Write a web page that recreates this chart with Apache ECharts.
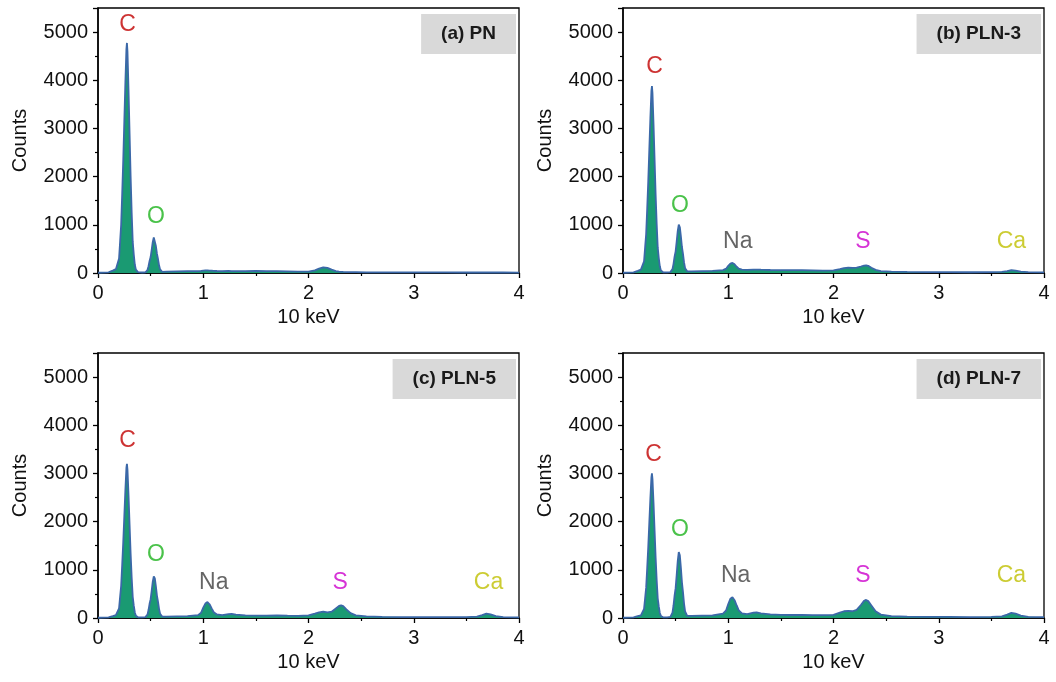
<!DOCTYPE html>
<html>
<head>
<meta charset="utf-8">
<script src="https://cdn.jsdelivr.net/npm/echarts@6/dist/echarts.min.js"></script>
<style>
  html, body { margin: 0; padding: 0; background: #fff; }
  #main { width: 1056px; height: 682px; }
</style>
</head>
<body>
<div id="main"></div>
<script>
// energy grid (x axis, "10 keV" units)
var energy = [0, 0.05, 0.10, 0.14, 0.17, 0.20, 0.21, 0.22, 0.23, 0.24, 0.25, 0.26, 0.27, 0.275, 0.28, 0.29, 0.30, 0.31, 0.32, 0.33,
  0.34, 0.35, 0.36, 0.38, 0.42, 0.45, 0.47, 0.48, 0.49, 0.50, 0.51, 0.52, 0.53, 0.54, 0.55, 0.56, 0.57, 0.58, 0.59, 0.61,
  0.65, 0.75, 0.85, 0.95, 0.98, 1.00, 1.02, 1.04, 1.06, 1.08, 1.10, 1.13, 1.18, 1.24, 1.27, 1.31, 1.40, 1.50, 1.60, 1.70,
  1.80, 1.90, 2.00, 2.06, 2.10, 2.14, 2.18, 2.22, 2.26, 2.29, 2.31, 2.33, 2.36, 2.40, 2.45, 2.55, 2.70, 2.90, 3.10, 3.30,
  3.50, 3.60, 3.65, 3.69, 3.73, 3.78, 3.85, 4.00];

// counts, one list per sample
var countsPN = [5, 8, 15, 50, 80, 300, 650, 1000, 1650, 2350, 3150, 3950, 4650, 4775, 4600, 3800, 2900, 2000, 1250, 650,
  380, 170, 70, 20, 10, 15, 60, 140, 250, 330, 480, 640, 740, 700, 560, 400, 290, 160, 75, 25,
  30, 35, 38, 40, 45, 50, 55, 55, 50, 48, 45, 42, 40, 42, 40, 40, 40, 45, 40, 38,
  35, 30, 30, 55, 90, 115, 105, 70, 40, 30, 25, 22, 20, 18, 18, 15, 15, 14, 12, 12,
  10, 10, 10, 10, 10, 10, 10, 8];
var countsPLN3 = [5, 8, 15, 45, 70, 240, 530, 810, 1340, 1910, 2560, 3210, 3780, 3880, 3740, 3090, 2360, 1630, 1020, 530,
  310, 140, 55, 15, 12, 20, 80, 190, 340, 450, 650, 870, 1005, 950, 760, 540, 395, 220, 100, 35,
  35, 40, 45, 60, 90, 150, 195, 210, 180, 130, 90, 70, 65, 70, 72, 68, 62, 60, 58, 60,
  55, 50, 55, 80, 100, 110, 105, 110, 135, 155, 160, 150, 110, 65, 40, 28, 22, 18, 18, 16,
  18, 25, 40, 60, 50, 30, 18, 12];
var countsPLN5 = [5, 8, 15, 40, 60, 200, 440, 670, 1110, 1580, 2110, 2650, 3120, 3200, 3080, 2550, 1940, 1340, 840, 440,
  255, 115, 47, 15, 12, 18, 70, 165, 295, 390, 565, 750, 865, 820, 655, 465, 340, 190, 90, 30,
  30, 35, 40, 60, 110, 215, 300, 330, 285, 200, 120, 75, 60, 80, 85, 70, 55, 50, 48, 55,
  48, 45, 55, 90, 115, 130, 115, 130, 200, 250, 262, 245, 180, 100, 55, 32, 25, 20, 20, 18,
  20, 30, 60, 92, 75, 40, 20, 15];
var countsPLN7 = [5, 8, 15, 40, 55, 190, 410, 630, 1040, 1480, 1980, 2480, 2920, 3000, 2890, 2390, 1820, 1260, 790, 410,
  240, 105, 44, 15, 15, 25, 110, 260, 465, 620, 890, 1180, 1370, 1300, 1040, 740, 540, 300, 140, 45,
  45, 50, 55, 90, 160, 290, 400, 430, 370, 260, 160, 95, 80, 110, 115, 95, 75, 65, 62, 65,
  60, 58, 65, 110, 140, 150, 140, 170, 270, 355, 375, 350, 260, 140, 70, 40, 30, 25, 22, 20,
  22, 35, 70, 105, 90, 50, 25, 18];

var panelTitles = ['(a) PN', '(b) PLN-3', '(c) PLN-5', '(d) PLN-7'];
var yTicks = [0, 1000, 2000, 3000, 4000, 5000];

// element peak labels: [name, energy, counts]
var labelsPN = [['C', 0.28, 5150], ['O', 0.55, 1160]];
var labelsPLN3 = [['C', 0.30, 4280], ['O', 0.54, 1390], ['Na', 1.09, 660], ['S', 2.28, 660], ['Ca', 3.69, 660]];
var labelsPLN5 = [['C', 0.28, 3680], ['O', 0.55, 1310], ['Na', 1.10, 730], ['S', 2.30, 730], ['Ca', 3.71, 730]];
var labelsPLN7 = [['C', 0.29, 3390], ['O', 0.54, 1830], ['Na', 1.07, 870], ['S', 2.28, 870], ['Ca', 3.69, 870]];

var elementColors = { C: '#c00000', O: '#1db31d', Na: '#3f3f3f', S: '#cc00cc', Ca: '#bfbf00' };

var counts = [countsPN, countsPLN3, countsPLN5, countsPLN7];
var labels = [labelsPN, labelsPLN3, labelsPLN5, labelsPLN7];

var FONT = '"Liberation Sans", Arial, sans-serif';
var grids = [
  { left: 98, top: 8, width: 421, height: 265 },
  { left: 623, top: 8, width: 421, height: 265 },
  { left: 98, top: 353, width: 421, height: 265 },
  { left: 623, top: 353, width: 421, height: 265 }
];

var chart = echarts.init(document.getElementById('main'));

var option = {
  backgroundColor: '#ffffff',
  animation: false,
  title: [],
  grid: [],
  xAxis: [],
  yAxis: [],
  series: []
};

for (var i = 0; i < 4; i++) {
  var g = grids[i];
  option.grid.push({
    left: g.left, top: g.top, width: g.width, height: g.height,
    show: true, borderColor: '#000', borderWidth: 1.3, backgroundColor: 'transparent'
  });

  option.title.push({
    text: panelTitles[i],
    right: 1056 - (g.left + g.width - 3),
    top: g.top + 6,
    backgroundColor: '#d9d9d9',
    padding: [10, 20, 10, 20],
    textStyle: { fontFamily: FONT, fontSize: 19, fontWeight: 'bold', color: '#1a1a1a', lineHeight: 20 }
  });

  option.xAxis.push({
    type: 'value', gridIndex: i, min: 0, max: 4, interval: 1,
    name: '10 keV', nameLocation: 'middle', nameGap: 34,
    nameTextStyle: { fontFamily: FONT, fontSize: 20, color: '#111' },
    axisLine: { show: true, onZero: false, lineStyle: { color: '#000', width: 1.5 } },
    axisTick: { show: true, inside: false, length: 5, lineStyle: { color: '#000', width: 1.3 } },
    minorTick: { show: true, splitNumber: 2, length: 3, lineStyle: { color: '#000', width: 1.2 } },
    axisLabel: { fontFamily: FONT, fontSize: 20, color: '#111', margin: 10 },
    splitLine: { show: false }
  });

  option.yAxis.push({
    type: 'value', gridIndex: i, min: 0, max: 5500, interval: 1000,
    name: 'Counts', nameLocation: 'middle', nameGap: 68,
    nameTextStyle: { fontFamily: FONT, fontSize: 20, color: '#111' },
    axisLine: { show: true, onZero: false, lineStyle: { color: '#000', width: 1.5 } },
    axisTick: { show: true, inside: false, length: 5, lineStyle: { color: '#000', width: 1.3 } },
    minorTick: { show: true, splitNumber: 2, length: 3, lineStyle: { color: '#000', width: 1.2 } },
    axisLabel: {
      fontFamily: FONT, fontSize: 20, color: '#111', margin: 10, showMaxLabel: false,
      formatter: function (v) { return yTicks.indexOf(v) >= 0 ? String(v) : ''; }
    },
    splitLine: { show: false }
  });

  var pts = [];
  for (var k = 0; k < energy.length; k++) pts.push([energy[k], counts[i][k]]);

  option.series.push({
    type: 'line', xAxisIndex: i, yAxisIndex: i,
    data: pts, showSymbol: false, symbol: 'none',
    lineStyle: { color: '#3b68a8', width: 1.8 },
    areaStyle: { color: '#1a9a72', opacity: 1 },
    z: 2
  });

  option.series.push({
    type: 'scatter', xAxisIndex: i, yAxisIndex: i,
    symbolSize: 0, silent: true, z: 5,
    data: labels[i].map(function (l) {
      return {
        value: [l[1], l[2]], name: l[0],
        label: {
          show: true, position: 'inside', formatter: l[0],
          fontFamily: FONT, fontSize: 23, color: elementColors[l[0]]
        }
      };
    })
  });
}

chart.setOption(option);
</script>
</body>
</html>
